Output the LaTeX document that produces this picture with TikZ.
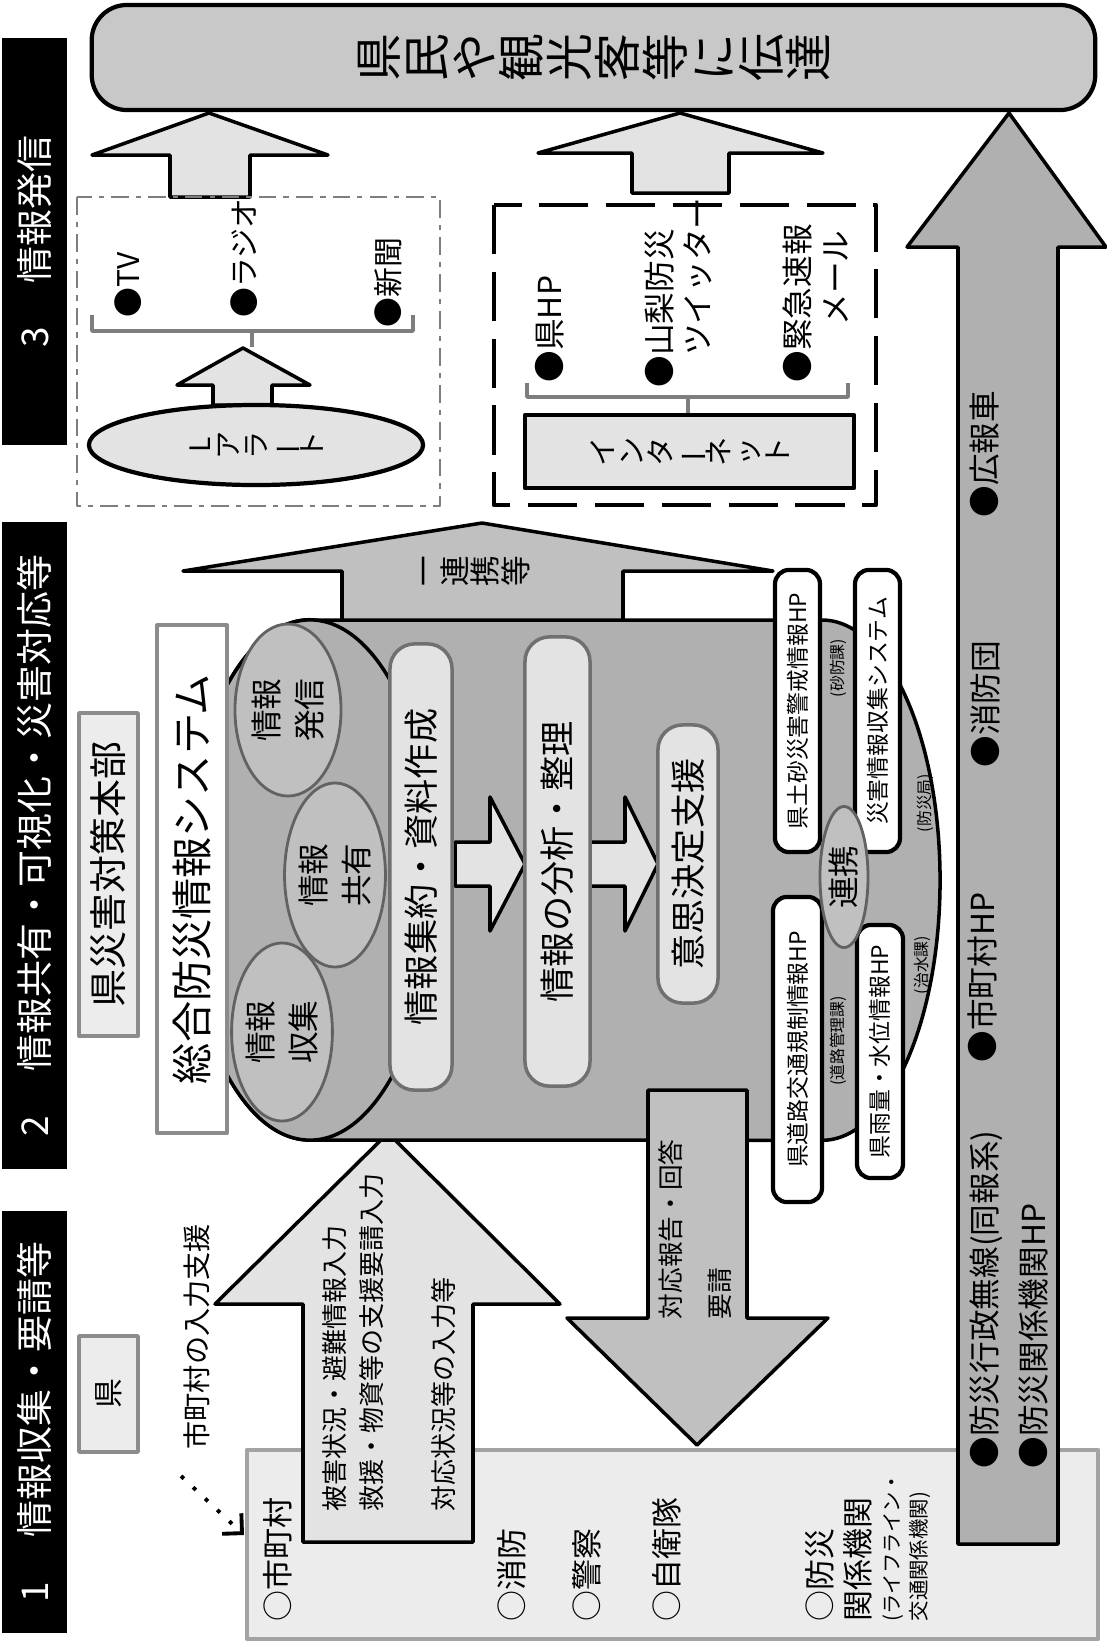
\documentclass[tikz,border=0pt]{standalone}
\usepackage{fontspec}
\setmainfont{Noto Sans CJK JP}
\usepackage{graphicx}
\usetikzlibrary{shapes.geometric,arrows.meta}

\definecolor{tgray}{HTML}{C8C8C8}
\definecolor{lgray}{HTML}{E3E3E3}
\definecolor{mgray}{HTML}{C0C0C0}
\definecolor{dgray}{HTML}{B0B0B0}
\definecolor{bgray}{HTML}{ECECEC}
\definecolor{edge}{HTML}{8C8C8C}

\newcommand\fsz[2]{\fontsize{#1}{#2}\selectfont}
% vertical writing: one glyph per cell, stacked
\newcommand\tbar{\rotatebox[origin=c]{90}{ー}}
\def\tatesplit#1{\ifx\relax#1\else\hbox to 1em{\vrule height .88em depth .12em width 0pt\hss\smash{#1}\hss}\expandafter\tatesplit\fi}
\newcommand\tate[1]{\vbox{\offinterlineskip\tatesplit#1\relax}}

\tikzset{
  blk/.style={draw=black, line width=1pt},
  vt/.style={rotate=90, inner sep=0pt},
  lab/.style={vt, anchor=west, font=\fsz{8.8}{10.8}},
  blab/.style={vt, anchor=west, align=left, font=\fsz{9}{13.7}},
  mlab/.style={vt, anchor=west, align=left, font=\fsz{9}{10.8}},
  bar/.style={vt, fill=black, text=white, minimum height=0.65cm, font=\fsz{10.5}{12}},
  ibox/.style={vt, draw=edge!80!black, line width=1pt, fill=lgray, rounded corners=7pt, font=\fsz{10}{12}},
  wbox/.style={vt, draw=black, line width=1.2pt, fill=white, rounded corners=4pt, font=\fsz{6.5}{8}},
  circ/.style={vt, ellipse, draw=edge!70!black, line width=0.8pt, fill=mgray, align=center, font=\fsz{9}{12}},
  dept/.style={vt, font=\fsz{4.5}{5}},
  gbox/.style={vt, draw=edge, line width=1pt, fill=bgray}
}

\begin{document}
\begin{tikzpicture}[x=0.01cm, y=-0.01cm, line join=round]
\useasboundingbox (0,0) rectangle (1107,1644);

% step bars
\node[bar, minimum width=4.07cm] (b3) at (34.5,241.5) {3\hspace{1.2em}情報発信};
\node[bar, minimum width=6.47cm] (b2) at (34.5,845.5) {2\hspace{1.2em}情報共有・可視化・災害対応等};
\node[bar, minimum width=4.22cm] (b1) at (34.5,1422) {1\hspace{1.2em}情報収集・要請等};

% receivers
\node[vt, draw, line width=1.2pt, fill=tgray, rounded corners=10pt, minimum width=1.05cm, minimum height=10.03cm, font=\fsz{13.6}{16}] (dest) at (593.5,57.5) {\tate{県民や観光客等に伝達}};

% municipalities
\node[draw=edge!80, line width=1.2pt, fill=bgray, minimum width=8.51cm, minimum height=1.89cm, inner sep=0pt] (munibox) at (672.5,1544.5) {};

% block arrows
\draw[blk, fill=dgray] (958,1544) -- (958,247) -- (907,247) -- (1009,113) -- (1106,247) -- (1058,247) -- (1058,1544) -- cycle;
\draw[blk, fill=lgray] (303,1542) -- (303,1304) -- (215,1304) -- (388,1133) -- (560,1304) -- (473,1304) -- (473,1542) -- cycle;
\draw[blk, fill=mgray] (342,620) -- (342,571) -- (183,571) -- (482,523) -- (773,571) -- (623,571) -- (623,620);
\draw[blk, fill=lgray] (170,197) -- (170,155) -- (92,155) -- (209,113) -- (328,155) -- (250,155) -- (250,197) -- cycle;
\draw[blk, fill=lgray] (632,193) -- (632,153) -- (538,153) -- (680,113) -- (823,153) -- (729,153) -- (729,193) -- cycle;

% system cylinder
\draw[blk, fill=dgray] (310,620) -- (822,620) arc[start angle=90, end angle=-90, x radius=1.18cm, y radius=2.6cm] -- (310,1140) arc[start angle=270, end angle=90, x radius=1.25cm, y radius=2.6cm] -- cycle;
\draw[blk, fill=dgray] (310,880) ellipse[x radius=1.25cm, y radius=2.6cm];
\node[circ, minimum width=1.72cm, minimum height=1.06cm] (send) at (288,710) {情報\\発信};
\node[circ, minimum width=1.78cm, minimum height=0.94cm] (gather) at (282,1032) {情報\\収集};
\node[circ, minimum width=1.84cm, minimum height=0.94cm] (share) at (335,875) {情報\\共有};
\draw[blk, fill=lgray] (455,842) -- (490,842) -- (490,797) -- (525,864) -- (490,931) -- (490,886) -- (455,886) -- cycle;
\draw[blk, fill=lgray] (590,842) -- (625,842) -- (625,797) -- (658,864) -- (625,931) -- (625,886) -- (590,886) -- cycle;
\node[ibox, minimum width=4.46cm, minimum height=0.62cm] (coll) at (421,867) {情報集約・資料作成};
\node[ibox, minimum width=4.49cm, minimum height=0.65cm] (anal) at (557.5,861.5) {情報の分析・整理};
\node[ibox, minimum width=2.78cm, minimum height=0.60cm] (deci) at (688,864) {意思決定支援};
\node[wbox, minimum width=2.82cm, minimum height=0.45cm] (sabo) at (797.5,711) {県土砂災害警戒情報HP};
\node[wbox, minimum width=2.82cm, minimum height=0.45cm] (collsys) at (877.5,711) {災害情報収集システム};
\node[wbox, minimum width=3.05cm, minimum height=0.49cm] (road) at (797.5,1049.5) {県道路交通規制情報HP};
\node[wbox, minimum width=2.53cm, minimum height=0.46cm] (rain) at (880,1051.5) {県雨量・水位情報HP};
\node[circ, minimum width=1.41cm, minimum height=0.48cm] (link) at (844,877) {連携};
\node[dept] (d1) at (838,668) {(砂防課)};
\node[dept] (d2) at (925,803) {(防災局)};
\node[dept] (d3) at (838,1041) {(道路管理課)};
\node[dept] (d4) at (922,965) {(治水課)};
\node[vt, font=\fsz{8.7}{9}] (linktxt) at (470,571) {\tate{一連携等}};
\draw[blk, fill=mgray] (648,1090) -- (747,1090) -- (747,1318) -- (828,1318) -- (697,1445) -- (567,1318) -- (648,1318) -- cycle;
\node[vt, anchor=west, align=left, font=\fsz{7.3}{13.7}] (reqtxt) at (695,1320) {対応報告・回答\\要請};
\node[vt, draw=edge, line width=1pt, fill=white, minimum width=5.08cm, minimum height=0.70cm, font=\fsz{11.7}{14}] (sys) at (192,879) {総合防災情報システム};
\node[gbox, minimum width=3.23cm, minimum height=0.59cm, font=\fsz{10.8}{12}] (hq) at (108.5,874.5) {県災害対策本部};

% input from municipalities
\node[vt, anchor=west, align=left, font=\fsz{7.4}{10.5}] (inputtxt) at (389.5,1512) {被害状況・避難情報入力\\救援・物資等の支援要請入力\\[10pt]対応状況等の入力等};
\node[gbox, minimum width=1.16cm, minimum height=0.59cm, font=\fsz{8.5}{10}] (pref) at (108.5,1394) {県};
\node[vt, anchor=west, font=\fsz{8}{10}] (assist) at (197,1450) {市町村の入力支援};
\coordinate (dotA) at (181,1476);
\coordinate (dotB) at (244,1535);
\draw[line width=1.1pt, dash pattern=on 1.1pt off 3.6pt, -{Straight Barb[length=4pt]}] (dotA) -- (dotB);
\node[lab] (muni) at (278,1622) {○市町村};
\node[lab] (fire) at (512,1622) {○消防};
\node[lab] (police) at (587,1622) {○警察};
\node[lab] (sdf) at (667,1622) {○自衛隊};
\node[lab, align=left] (org) at (839,1622) {○防災\\関係機関};
\node[vt, anchor=west, align=left, font=\fsz{5.8}{7.7}] (life) at (906.5,1622) {(ライフライン・\\交通関係機関)};

% direct channels
\node[blab] (car) at (985,518) {●広報車};
\node[blab] (brig) at (985,768) {●消防団};
\node[blab] (munihp) at (982,1063) {●市町村HP};
\node[blab] (wireless) at (1009,1469) {●防災行政無線(同報系)\\●防災関係機関HP};

% media
\draw[draw=edge!90!black, line width=0.8pt, dash pattern=on 5pt off 2pt on 1.5pt off 2pt] (77,197) rectangle (440,506);
\node[mlab, font=\fsz{8.5}{10}] (tv) at (128,318) {●TV};
\node[mlab, font=\fsz{8.5}{10}] (radio) at (244,318) {●ラジオ};
\node[mlab, font=\fsz{8.5}{10}] (paper) at (388,328) {●新聞};
\draw[edge!90!black, line width=1pt] (92,315) -- (92,331) -- (413,331) -- (413,315) (252,331) -- (252,347);
\draw[blk, fill=lgray] (213,405) -- (213,385) -- (177,385) -- (243,348) -- (310,385) -- (272,385) -- (272,405) -- cycle;
\node[vt, ellipse, draw, line width=1.2pt, fill=lgray, minimum width=0.8cm, minimum height=3.34cm, font=\fsz{8}{9}] (lalert) at (256,445) {\tate{Lアラ\tbar ト}};

% internet
\draw[black, line width=1.3pt, dash pattern=on 14pt off 5pt] (494,205) rectangle (876,505);
\node[mlab] (kenhp) at (550,383) {●県HP};
\node[mlab] (tw) at (678,388) {●山梨防災\\\hspace{1em}ツイッター};
\node[mlab] (mail) at (816,383) {●緊急速報\\\hspace{1.8em}メール};
\draw[edge!90!black, line width=1pt] (527,383) -- (527,397) -- (848,397) -- (848,383) (688,397) -- (688,413);
\node[vt, draw, line width=1.2pt, fill=lgray, minimum width=0.73cm, minimum height=3.29cm, font=\fsz{8.3}{9}] (inet) at (689.5,451.5) {\tate{インタ\tbar ネット}};
\end{tikzpicture}
\end{document}
